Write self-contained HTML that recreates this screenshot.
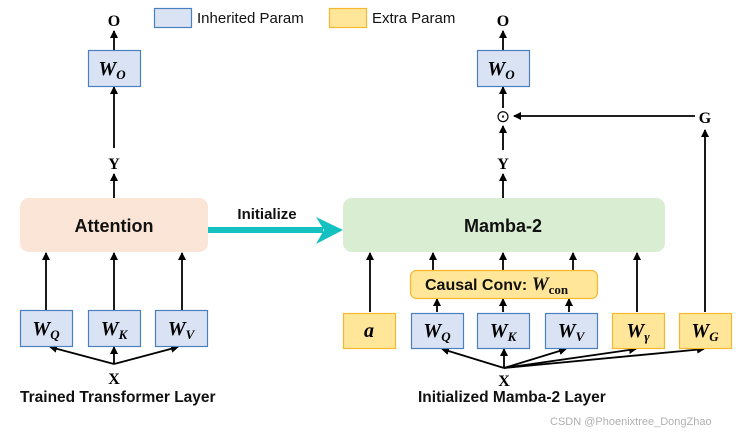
<!DOCTYPE html>
<html><head><meta charset="utf-8"><style>
html,body{margin:0;padding:0;background:#fff;}
svg{display:block;}
.s{font-family:"Liberation Sans",sans-serif;font-weight:bold;}
.m{font-family:"Liberation Serif",serif;font-weight:bold;}
.mi{font-family:"Liberation Serif",serif;font-weight:bold;font-style:italic;}
</style></head><body>
<svg width="748" height="436" viewBox="0 0 748 436" xmlns="http://www.w3.org/2000/svg">
<defs>
<marker id="a" markerWidth="8" markerHeight="8" refX="7" refY="4" orient="auto" markerUnits="userSpaceOnUse"><path d="M0,0 L8,4 L0,8 Z" fill="#000"/></marker>
</defs>
<!-- legend -->
<rect x="154.5" y="8.5" width="37" height="19" fill="#dae3f3" stroke="#4a80c0" stroke-width="1.2"/>
<text x="197" y="23" font-family="Liberation Sans,sans-serif" font-size="15" fill="#111">Inherited Param</text>
<rect x="329.5" y="8.5" width="37" height="19" fill="#ffe699" stroke="#f5b82e" stroke-width="1.2"/>
<text x="372" y="23" font-family="Liberation Sans,sans-serif" font-size="15" fill="#111">Extra Param</text>

<g stroke="#000" stroke-width="1.8" fill="none" marker-end="url(#a)">
<!-- left -->
<line x1="114" y1="50" x2="114" y2="31"/>
<line x1="114" y1="148" x2="114" y2="87"/>
<line x1="114" y1="198" x2="114" y2="174"/>
<line x1="46" y1="310" x2="46" y2="253"/>
<line x1="114" y1="310" x2="114" y2="253"/>
<line x1="182" y1="310" x2="182" y2="253"/>
<line x1="114" y1="364" x2="50" y2="347"/>
<line x1="114" y1="364" x2="114" y2="347"/>
<line x1="114" y1="364" x2="178" y2="347"/>
<!-- right -->
<line x1="503" y1="50" x2="503" y2="31"/>
<line x1="503" y1="108" x2="503" y2="87"/>
<line x1="503" y1="150" x2="503" y2="126"/>
<line x1="503" y1="198" x2="503" y2="174"/>
<line x1="695" y1="116" x2="514" y2="116"/>
<line x1="705" y1="312" x2="705" y2="130"/>
<line x1="370" y1="312" x2="370" y2="253"/>
<line x1="433" y1="270" x2="433" y2="253"/>
<line x1="503" y1="270" x2="503" y2="253"/>
<line x1="573" y1="270" x2="573" y2="253"/>
<line x1="637" y1="312" x2="637" y2="253"/>
<line x1="437" y1="312" x2="437" y2="299"/>
<line x1="503" y1="312" x2="503" y2="299"/>
<line x1="569" y1="312" x2="569" y2="299"/>
<line x1="504" y1="368" x2="442" y2="349"/>
<line x1="504" y1="368" x2="504" y2="349"/>
<line x1="504" y1="368" x2="566" y2="349"/>
<line x1="504" y1="368" x2="636" y2="349"/>
<line x1="504" y1="368" x2="704" y2="349"/>
</g>

<!-- left boxes -->
<rect x="88.5" y="50.5" width="52" height="36" fill="#dae3f3" stroke="#4a80c0" stroke-width="1.2"/>
<rect x="20" y="198" width="188" height="54" rx="9" fill="#fbe5d6"/>
<text x="114" y="232" text-anchor="middle" class="s" font-size="18" fill="#111">Attention</text>
<rect x="20.5" y="310.5" width="52" height="36" fill="#dae3f3" stroke="#4a80c0" stroke-width="1.2"/>
<rect x="88.5" y="310.5" width="52" height="36" fill="#dae3f3" stroke="#4a80c0" stroke-width="1.2"/>
<rect x="155.5" y="310.5" width="52" height="36" fill="#dae3f3" stroke="#4a80c0" stroke-width="1.2"/>

<text x="114" y="26" text-anchor="middle" class="m" font-size="16">O</text>
<text x="114" y="169" text-anchor="middle" class="m" font-size="16">Y</text>
<text x="114" y="384" text-anchor="middle" class="m" font-size="16">X</text>
<text x="112" y="75" text-anchor="middle" class="mi" font-size="20">W<tspan font-size="13" dy="4">O</tspan></text>
<text x="46" y="335" text-anchor="middle" class="mi" font-size="20">W<tspan font-size="13" dy="4">Q</tspan></text>
<text x="114" y="335" text-anchor="middle" class="mi" font-size="20">W<tspan font-size="13" dy="4">K</tspan></text>
<text x="181" y="335" text-anchor="middle" class="mi" font-size="20">W<tspan font-size="13" dy="4">V</tspan></text>
<text x="20" y="402" class="s" font-size="15.5" fill="#111">Trained Transformer Layer</text>

<!-- initialize -->
<text x="267" y="219" text-anchor="middle" class="s" font-size="15" fill="#111">Initialize</text>
<rect x="208" y="227" width="115" height="6" fill="#14c0c0"/>
<path d="M343,230 L316,217 L324,230 L316,244 Z" fill="#14c0c0"/>

<!-- right boxes -->
<rect x="477.5" y="50.5" width="52" height="36" fill="#dae3f3" stroke="#4a80c0" stroke-width="1.2"/>
<rect x="343" y="198" width="322" height="54" rx="9" fill="#d8edd2"/>
<text x="503" y="232" text-anchor="middle" class="s" font-size="18" fill="#111">Mamba-2</text>
<rect x="410.5" y="270.5" width="187" height="28" rx="6" fill="#ffe699" stroke="#f5b82e" stroke-width="1.2"/>
<text x="425" y="290" class="s" font-size="16" fill="#111">Causal Conv: <tspan class="mi" font-size="19">W</tspan><tspan class="m" font-size="13" dy="4">con</tspan></text>
<rect x="343.5" y="313.5" width="52" height="35" fill="#ffe699" stroke="#f5b82e" stroke-width="1.2"/>
<rect x="411.5" y="313.5" width="52" height="35" fill="#dae3f3" stroke="#4a80c0" stroke-width="1.2"/>
<rect x="477.5" y="313.5" width="52" height="35" fill="#dae3f3" stroke="#4a80c0" stroke-width="1.2"/>
<rect x="545.5" y="313.5" width="52" height="35" fill="#dae3f3" stroke="#4a80c0" stroke-width="1.2"/>
<rect x="612.5" y="313.5" width="52" height="35" fill="#ffe699" stroke="#f5b82e" stroke-width="1.2"/>
<rect x="679.5" y="313.5" width="52" height="35" fill="#ffe699" stroke="#f5b82e" stroke-width="1.2"/>

<text x="503" y="26" text-anchor="middle" class="m" font-size="16">O</text>
<text x="503" y="122" text-anchor="middle" font-family="DejaVu Sans,sans-serif" font-size="17">⊙</text>
<text x="705" y="123" text-anchor="middle" class="m" font-size="16">G</text>
<text x="503" y="169" text-anchor="middle" class="m" font-size="16">Y</text>
<text x="504" y="386" text-anchor="middle" class="m" font-size="16">X</text>
<text x="501" y="75" text-anchor="middle" class="mi" font-size="20">W<tspan font-size="13" dy="4">O</tspan></text>
<text x="369" y="337" text-anchor="middle" class="mi" font-size="20">a</text>
<text x="437" y="337" text-anchor="middle" class="mi" font-size="20">W<tspan font-size="13" dy="4">Q</tspan></text>
<text x="503" y="337" text-anchor="middle" class="mi" font-size="20">W<tspan font-size="13" dy="4">K</tspan></text>
<text x="571" y="337" text-anchor="middle" class="mi" font-size="20">W<tspan font-size="13" dy="4">V</tspan></text>
<text x="638" y="337" text-anchor="middle" class="mi" font-size="20">W<tspan font-size="13" dy="4">γ</tspan></text>
<text x="705" y="337" text-anchor="middle" class="mi" font-size="20">W<tspan font-size="13" dy="4">G</tspan></text>
<text x="418" y="402" class="s" font-size="15.5" fill="#111">Initialized Mamba-2 Layer</text>

<text x="550" y="425" font-family="Liberation Sans,sans-serif" font-size="11" fill="#b0b0b0">CSDN @Phoenixtree_DongZhao</text>
</svg>
</body></html>
